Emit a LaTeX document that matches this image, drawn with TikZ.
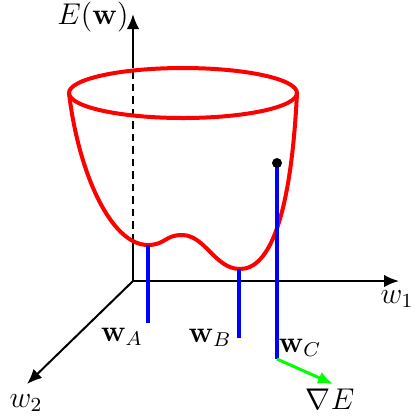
\documentclass[tikz,border=0pt]{standalone}
\usepackage{amsmath,amssymb}
\usepackage{tikz}
\usetikzlibrary{arrows.meta,positioning,calc}

\begin{document}
\begin{tikzpicture}[>={Latex[length=6pt,width=5pt]}, x=0.4pt, y=-0.4pt,
  axis/.style={->,line width=0.8pt},
  bowl/.style={red,line width=1.6pt},
  weight/.style={blue,line width=1.4pt},
  grad/.style={->,green,line width=1.2pt},
  every node/.style={inner sep=1pt,font=\fontsize{11.5}{14}\selectfont}]
  \useasboundingbox (0,0) rectangle (418,415);
  % Axes
  \coordinate (O) at (133,281);
  \coordinate (zlow) at (133,241);
  \coordinate (zrim) at (133,68);
  \coordinate (ztop) at (133,14);
  \coordinate (w1end) at (399,281);
  \coordinate (w2end) at (27,384);
  \draw[line width=0.8pt] (O) -- (zlow);
  \draw[line width=0.8pt,dash pattern=on 3pt off 2pt] (zlow) -- (zrim);
  \draw[axis] (zrim) -- (ztop);
  \draw[axis] (O) -- (w1end);
  \draw[axis] (O) -- (w2end);
  % Error surface
  \coordinate (rimL) at (69,93);
  \coordinate (rimR) at (297,93);
  \draw[bowl] (183,93) ellipse [x radius=45.6pt, y radius=10pt];
  \draw[bowl] (rimL) .. controls (78,170) and (110,245) .. (148,245)
    .. controls (165,245) and (165,235) .. (182,235)
    .. controls (205,235) and (215,269) .. (240,269)
    .. controls (270,269) and (291,215) .. (rimR);
  % Weight vectors
  \coordinate (Atop) at (148,245);
  \coordinate (Abot) at (148,323);
  \coordinate (Btop) at (239,269);
  \coordinate (Bbot) at (239,338);
  \coordinate (Ctop) at (277,163);
  \coordinate (Cbot) at (277,359);
  \coordinate (gradend) at (333,384);
  \draw[weight] (Atop) -- (Abot);
  \draw[weight] (Btop) -- (Bbot);
  \draw[weight] (Ctop) -- (Cbot);
  \fill (Ctop) circle (2pt);
  \draw[grad] (Cbot) -- (gradend);
  % Labels
  \node (Elab) at (93,17) {$E(\mathbf{w})$};
  \node (w1lab) at (397,299) {$w_1$};
  \node (w2lab) at (26,403) {$w_2$};
  \node (wAlab) at (122,337) {$\mathbf{w}_A$};
  \node (wBlab) at (210,338) {$\mathbf{w}_B$};
  \node (wClab) at (300,348) {$\mathbf{w}_C$};
  \node (gradlab) at (330,399) {$\nabla E$};
\end{tikzpicture}
\end{document}
